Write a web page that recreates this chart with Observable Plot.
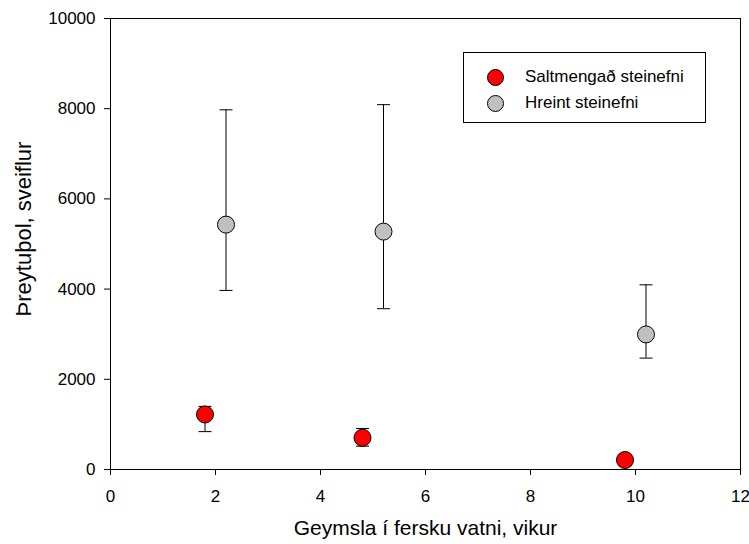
<!DOCTYPE html>
<html>
<head>
<meta charset="utf-8">
<script src="https://cdn.jsdelivr.net/npm/d3@7"></script>
<script src="https://cdn.jsdelivr.net/npm/@observablehq/plot@0.6"></script>
<style>
  html, body { margin: 0; padding: 0; background: #fff; }
  #wrap { position: relative; width: 749px; height: 544px; font-family: "Liberation Sans", Arial, sans-serif; }
  #legend { position: absolute; left: 463px; top: 52px; width: 243px; height: 71px; border: 1px solid #000; box-sizing: border-box; background: #fff; }
  .item { position: absolute; left: 0; height: 20px; display: flex; align-items: center; font-size: 17px; color: #000; }
  .sw { width: 17px; height: 17px; border-radius: 50%; border: 1px solid #000; box-sizing: border-box; margin-left: 23px; margin-right: 21px; }
</style>
</head>
<body>
<div id="wrap"></div>
<script>
// ---- data ----
const seriesNames = ["Saltmengað steinefni", "Hreint steinefni"];
const seriesColors = ["#ff0000", "#c0c0c0"];

const weeksSalt = [1.8, 4.8, 9.8];
const meanSalt  = [1220, 705, 210];
const hiSalt    = [1400, 910, 280];
const loSalt    = [840, 517, 150];

const weeksPure = [2.2, 5.2, 10.2];
const meanPure  = [5430, 5275, 2995];
const hiPure    = [7975, 8090, 4095];
const loPure    = [3970, 3565, 2470];

const xTicks = [0, 2, 4, 6, 8, 10, 12];
const yTicks = [0, 2000, 4000, 6000, 8000, 10000];
const xTitle = "Geymsla í fersku vatni, vikur";
const yTitle = "Þreytuþol, sveiflur";

// ---- build table ----
const rows = [];
weeksSalt.forEach((w, i) => rows.push({series: seriesNames[0], x: w, y: meanSalt[i], hi: hiSalt[i], lo: loSalt[i]}));
weeksPure.forEach((w, i) => rows.push({series: seriesNames[1], x: w, y: meanPure[i], hi: hiPure[i], lo: loPure[i]}));

const cap = { draw(ctx, size) { ctx.moveTo(-6.5, 0); ctx.lineTo(6.5, 0); } };
const font = "Liberation Sans, Arial, sans-serif";

const chart = Plot.plot({
  width: 749,
  height: 544,
  marginLeft: 110,
  marginRight: 9,
  marginTop: 18,
  marginBottom: 75,
  style: { fontFamily: font, background: "#fff", color: "#000" },
  x: { domain: [0, 12] },
  y: { domain: [0, 10000] },
  color: { domain: seriesNames, range: seriesColors },
  marks: [
    Plot.frame({ stroke: "#000", strokeWidth: 1 }),
    Plot.axisX({ ticks: xTicks, tickSize: 6, tickPadding: 14, fontSize: 17, label: null, stroke: "#000" }),
    Plot.axisY({ ticks: yTicks, tickSize: 6, tickPadding: 9, fontSize: 17, label: null, tickFormat: d => String(d), stroke: "#000" }),
    Plot.ruleX(rows, { x: "x", y1: "lo", y2: "hi", stroke: "#000", strokeWidth: 1 }),
    Plot.dot(rows, { x: "x", y: "hi", symbol: cap, stroke: "#000", strokeWidth: 1, fill: "none" }),
    Plot.dot(rows, { x: "x", y: "lo", symbol: cap, stroke: "#000", strokeWidth: 1, fill: "none" }),
    Plot.dot(rows, { x: "x", y: "y", r: 8.5, fill: "series", stroke: "#000", strokeWidth: 1 }),
    Plot.text([xTitle], { frameAnchor: "bottom", dy: 59, lineAnchor: "middle", textAnchor: "middle", fontSize: 21, fill: "#000" }),
    Plot.text([yTitle], { frameAnchor: "left", dx: -87, dy: -15, rotate: -90, lineAnchor: "middle", textAnchor: "middle", fontSize: 22, fill: "#000" })
  ]
});

const wrap = document.getElementById("wrap");
wrap.appendChild(chart);

const legend = document.createElement("div");
legend.id = "legend";
seriesNames.forEach((name, i) => {
  const item = document.createElement("div");
  item.className = "item";
  item.style.top = (14 + i * 26) + "px";
  const sw = document.createElement("span");
  sw.className = "sw";
  sw.style.background = seriesColors[i];
  item.appendChild(sw);
  const t = document.createElement("span");
  t.textContent = name;
  item.appendChild(t);
  legend.appendChild(item);
});
wrap.appendChild(legend);
</script>
</body>
</html>
